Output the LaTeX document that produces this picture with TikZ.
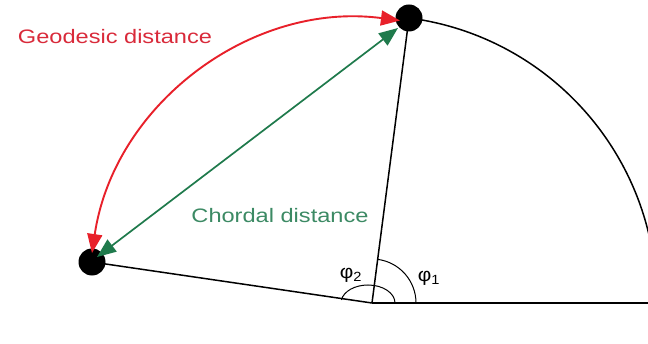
\documentclass[tikz,border=0pt]{standalone}
\usepackage{fontspec}
\setmainfont{Liberation Sans}
\usetikzlibrary{arrows.meta}
\definecolor{geored}{HTML}{E8202A}
\definecolor{geotext}{HTML}{D92A3A}
\definecolor{chordgreen}{HTML}{1F7A4C}
\definecolor{chordtext}{HTML}{3C8A64}
\tikzset{
  dotnode/.style={circle,fill=black,inner sep=0pt,minimum size=27pt},
  thinline/.style={line width=1.5pt,black},
  anglearc/.style={line width=1pt,black},
  geoarrow/.style={line width=1.9pt,geored,{Triangle[length=19pt,width=15pt]}-{Triangle[length=19pt,width=15pt]}},
  chordarrow/.style={line width=1.7pt,chordgreen,{Triangle[length=19pt,width=15pt]}-{Triangle[length=19pt,width=15pt]}},
  labeltext/.style={font=\fontsize{19.5pt}{22pt}\selectfont,xscale=1.21,inner sep=0pt},
  philabel/.style={font=\fontsize{19pt}{21pt}\selectfont,xscale=1.1,inner sep=0pt}
}
\begin{document}
\begin{tikzpicture}[x=1pt,y=1pt]
\useasboundingbox (0,0) rectangle (648,343);
\clip (0,0) rectangle (648,343);
\fill[white] (0,0) rectangle (648,343);
% key points
\coordinate (O) at (372,40);
\coordinate (Rend) at (660,40);
\node[dotnode] (T) at (409,325) {};
\node[dotnode] (L) at (92,81) {};
% black lines
\draw[thinline] (O) -- (Rend);
\draw[thinline] (T.center) -- (O);
\draw[thinline] (L.center) -- (O);
\draw[thinline] (T.center) arc[start angle=82.6,end angle=0,radius=284];
% angle arcs
\draw[anglearc] ([xshift=44pt]O) arc[start angle=0,end angle=82.6,radius=44];
\draw[anglearc] ([xshift=23pt]O) arc[start angle=0,end angle=170,x radius=27,y radius=18];
\node[philabel] (p2) at (351,68) {φ\textsubscript{2}};
\node[philabel] (p1) at (429,65) {φ\textsubscript{1}};
% red geodesic arc
\coordinate (gL) at (92,90);
\coordinate (gT) at (398,323);
\draw[geoarrow] (gL) arc[start angle=171.6,end angle=82.5,radius=275];
% green chord
\coordinate (cL) at (97,86);
\coordinate (cT) at (398,315);
\draw[chordarrow] (cL) -- (cT);
% labels
\node[labeltext,text=geotext] (geo) at (115,306) {Geodesic distance};
\node[labeltext,text=chordtext] (chord) at (280,127) {Chordal distance};
\end{tikzpicture}
\end{document}
